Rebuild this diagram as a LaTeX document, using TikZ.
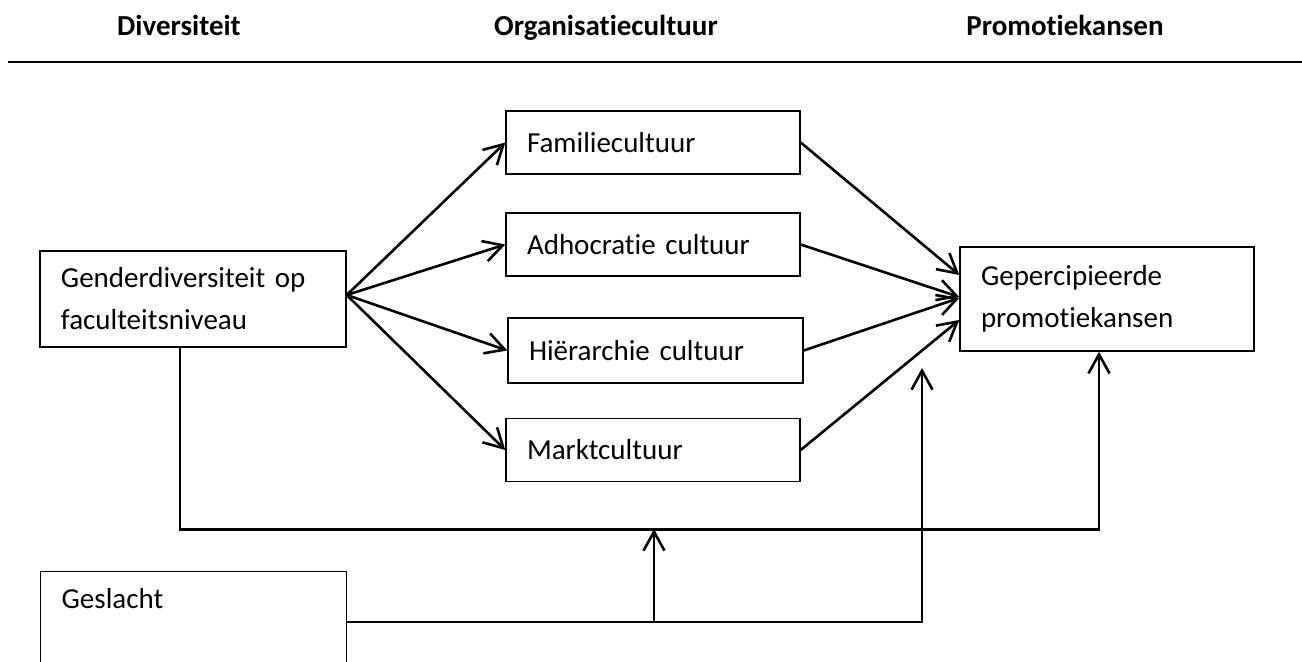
\documentclass[tikz,border=0pt]{standalone}
\usepackage{fontspec}
\setmainfont{Carlito}[Ligatures=NoCommon]
\usetikzlibrary{arrows.meta}

\begin{document}
\begin{tikzpicture}[
    x=0.5pt, y=-0.5pt,
    every node/.style={font=\fontsize{14.5}{21}\selectfont},
    header/.style={font=\fontsize{14.5}{21}\selectfont\bfseries, anchor=base},
    box/.style={rectangle, draw=black, line width=0.7pt, inner xsep=10.5pt, inner ysep=4pt, align=left},
    culture/.style={box, text width=126pt, minimum height=31.5pt},
    arrow/.style={-{Straight Barb[length=9.5pt, width=10.5pt]}, line width=1.3pt}
]
\useasboundingbox (0,0) rectangle (1302,662);
\clip (0,0) rectangle (1302,662);

% Column headers
\node[header] (hdiv) at (179,36) {Diversiteit};
\node[header] (horg) at (606,36) {Organisatiecultuur};
\node[header] (hpro) at (1065,36) {Promotiekansen};
\draw[line width=1pt] (8,62) -- (1302,62);

% Independent variable
\node[box, text width=132pt, minimum height=48pt] (gender) at (193,299) {Genderdiversiteit op\\faculteitsniveau};

% Culture types
\node[culture] (fam) at (653,142.5) {Familiecultuur};
\node[culture] (adh) at (653,244.5) {Adhocratie cultuur};
\node[culture, text width=126.5pt, minimum height=32.5pt] (hie) at (655.5,350.5) {Hiërarchie cultuur};
\node[culture] (mar) at (653,450) {Marktcultuur};

% Dependent variable
\node[box, text width=126pt, minimum height=52pt] (geperc) at (1107,299) {Gepercipieerde\\promotiekansen};

% Moderator
\node[box, text width=132pt, anchor=north west, inner ysep=8.5pt, text depth=45pt] (geslacht) at (40,571) {Geslacht};

% Paths via culture
\draw[arrow] ([yshift=2pt]gender.east) -- (fam.west);
\draw[arrow] ([yshift=2pt]gender.east) -- (adh.west);
\draw[arrow] ([yshift=2pt]gender.east) -- (hie.west);
\draw[arrow] ([yshift=2pt]gender.east) -- (mar.west);
\draw[arrow] (fam.east) -- ([yshift=12pt]geperc.west);
\draw[arrow] (adh.east) -- ([yshift=1pt]geperc.west);
\draw[arrow] (hie.east) -- ([yshift=0.5pt]geperc.west);
\draw[arrow] (mar.east) -- ([yshift=-10.5pt]geperc.west);

% Direct path
\draw[arrow] ([xshift=-6.5pt]gender.south) -- ++(0,182) -| ([xshift=-4pt]geperc.south);

% Moderation
\coordinate (gout) at ([yshift=-25.5pt]geslacht.north east);
\coordinate (modA) at (654,529);
\coordinate (modB) at (922,368);
\draw[arrow] (gout) -| (modB);
\draw[arrow] (modA |- gout) -- (modA);

\end{tikzpicture}
\end{document}
